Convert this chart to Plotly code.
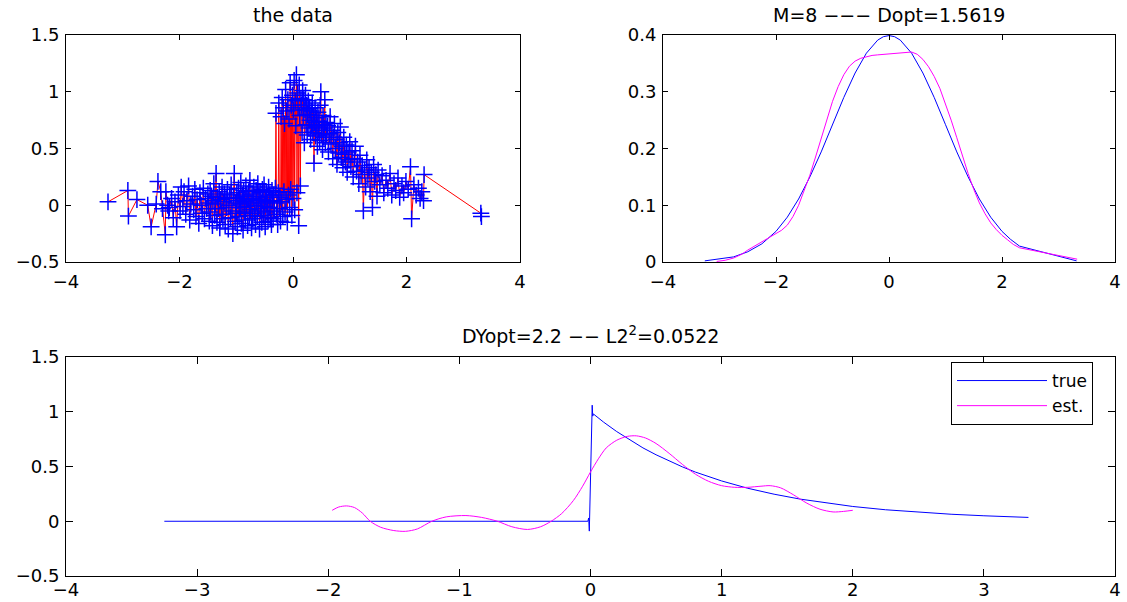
import plotly.graph_objects as go

# ---------------- data ----------------
# "the data": observed (x, y) pairs, sorted by x
scatter_tail_left = [
    (-3.26, 0.03), (-2.91, 0.13), (-2.90, -0.095), (-2.75, 0.05), (-2.56, 0.0),
    (-2.50, -0.19), (-2.41, 0.01), (-2.38, 0.21), (-2.33, 0.12), (-2.30, -0.03),
    (-2.25, -0.26), (-2.24, 0.12), (-2.21, 0.0), (-2.19, -0.05),
]
scatter_left_a = [
    (-2.18, -0.02), (-2.14, 0.06), (-2.11, -0.11), (-2.08, 0.03), (-2.05, -0.19),
    (-2.02, 0.09), (-1.99, -0.05), (-1.97, 0.16), (-1.94, -0.01), (-1.92, 0.12),
    (-1.89, -0.08), (-1.87, 0.04), (-1.84, 0.17), (-1.82, -0.13), (-1.80, 0.01),
    (-1.77, 0.08), (-1.75, -0.04), (-1.73, 0.14), (-1.71, -0.10), (-1.69, 0.05),
    (-1.66, -0.16), (-1.64, 0.11), (-1.62, 0.00), (-1.60, -0.07), (-1.58, 0.15),
    (-1.56, -0.12), (-1.54, 0.06), (-1.52, -0.03), (-1.50, 0.10),
]
scatter_left_b = [
    (-1.49, 0.02), (-1.475, -0.14), (-1.46, 0.13), (-1.45, -0.06), (-1.435, 0.08),
    (-1.42, -0.18), (-1.41, 0.04), (-1.395, 0.19), (-1.38, -0.09), (-1.37, 0.01),
    (-1.355, 0.28), (-1.34, -0.15), (-1.33, 0.07), (-1.315, -0.03), (-1.30, 0.12),
    (-1.29, -0.20), (-1.275, 0.05), (-1.26, -0.08), (-1.25, 0.16), (-1.235, -0.12),
    (-1.22, 0.03), (-1.21, 0.10), (-1.195, -0.17), (-1.18, 0.06), (-1.17, -0.02),
    (-1.155, 0.14), (-1.14, -0.21), (-1.13, 0.00), (-1.115, 0.09), (-1.10, -0.11),
    (-1.09, 0.18), (-1.075, -0.05), (-1.06, -0.25), (-1.05, 0.07), (-1.035, 0.28),
    (-1.02, -0.14), (-1.01, 0.02), (-1.00, -0.07),
]
scatter_left_c = [
    (-0.99, 0.11), (-0.98, -0.19), (-0.97, 0.04), (-0.96, 0.15), (-0.95, -0.10),
    (-0.94, 0.06), (-0.93, -0.02), (-0.92, 0.20), (-0.91, -0.16), (-0.90, 0.01),
    (-0.89, 0.09), (-0.88, -0.22), (-0.87, 0.13), (-0.86, -0.06), (-0.85, 0.03),
    (-0.84, -0.13), (-0.83, 0.17), (-0.82, -0.01), (-0.81, 0.08), (-0.80, -0.18),
    (-0.79, 0.05), (-0.78, 0.12), (-0.77, -0.09), (-0.76, 0.22), (-0.75, -0.04),
    (-0.74, 0.02), (-0.73, -0.20), (-0.72, 0.10), (-0.71, -0.12), (-0.70, 0.06),
    (-0.69, 0.16), (-0.68, -0.07), (-0.67, 0.00), (-0.66, -0.17), (-0.65, 0.13),
    (-0.64, 0.04), (-0.63, -0.10), (-0.62, 0.19), (-0.61, -0.03), (-0.60, 0.08),
    (-0.59, -0.21), (-0.58, 0.11), (-0.57, -0.05), (-0.56, 0.02), (-0.55, -0.15),
    (-0.54, 0.14), (-0.53, 0.05), (-0.52, -0.09), (-0.51, 0.18), (-0.50, -0.01),
    (-0.49, -0.19), (-0.48, 0.07), (-0.47, 0.12), (-0.46, -0.06), (-0.45, 0.03),
    (-0.44, -0.14), (-0.43, 0.16), (-0.42, -0.02), (-0.41, 0.09), (-0.40, -0.11),
    (-0.39, 0.04), (-0.38, -0.17), (-0.37, 0.13),
]
scatter_jump = [
    (-0.36, 0.04), (-0.35, -0.12), (-0.34, 0.09), (-0.33, -0.05), (-0.31, 0.15),
    (-0.30, 0.81), (-0.29, -0.08), (-0.28, 0.02), (-0.27, -0.17), (-0.26, 0.11),
    (-0.25, 0.90), (-0.24, -0.03), (-0.23, 0.07), (-0.22, -0.14), (-0.21, 0.78),
    (-0.20, 0.03), (-0.19, 0.95), (-0.18, -0.10), (-0.17, 0.86), (-0.16, 0.12),
    (-0.15, 0.72), (-0.14, -0.06), (-0.13, 1.02), (-0.12, 0.05), (-0.11, 0.83),
    (-0.10, -0.15), (-0.09, 0.93), (-0.08, 0.09), (-0.07, 0.76), (-0.06, -0.02),
    (-0.05, 1.08), (-0.04, 0.14), (-0.03, 0.88), (-0.02, -0.09), (-0.01, 0.97),
    (0.00, 0.06), (0.01, 0.84), (0.02, 1.10), (0.03, -0.04), (0.04, 0.92),
    (0.05, 0.70), (0.06, 1.15), (0.07, 0.11), (0.08, 0.99), (0.09, 0.86),
    (0.10, -0.18), (0.11, 1.06), (0.12, 0.79), (0.13, 0.17), (0.14, 0.94),
]
scatter_right_a = [
    (0.15, 0.88), (0.16, 0.64), (0.17, 1.01), (0.18, 0.79), (0.19, 0.93),
    (0.20, 0.55), (0.21, 0.84), (0.22, 0.97), (0.23, 0.71), (0.24, 0.88),
    (0.25, 0.62), (0.26, 0.80), (0.27, 0.92), (0.28, 0.68), (0.29, 0.85),
    (0.30, 0.75), (0.31, 0.58), (0.32, 0.83), (0.33, 0.70), (0.34, 0.90),
    (0.35, 0.64), (0.36, 0.79), (0.37, 0.37), (0.38, 0.73), (0.39, 0.86),
    (0.40, 0.61), (0.41, 0.77), (0.42, 0.69), (0.43, 0.52), (0.44, 0.82),
    (0.45, 0.66), (0.46, 0.74), (0.47, 0.57), (0.48, 0.88), (0.49, 1.00),
    (0.50, 0.63), (0.51, 0.71), (0.52, 0.49), (0.53, 0.79), (0.54, 0.60),
    (0.55, 0.68), (0.56, 0.93), (0.57, 0.55), (0.58, 0.73), (0.59, 0.62),
]
scatter_right_b = [
    (0.61, 0.70), (0.625, 0.47), (0.64, 0.63), (0.655, 0.78), (0.67, 0.54),
    (0.685, 0.66), (0.70, 0.41), (0.715, 0.60), (0.73, 0.72), (0.745, 0.50),
    (0.76, 0.58), (0.775, 0.36), (0.79, 0.64), (0.805, 0.46), (0.82, 0.55),
    (0.835, 0.69), (0.85, 0.42), (0.865, 0.52), (0.88, 0.33), (0.895, 0.60),
    (0.91, 0.45), (0.925, 0.38), (0.94, 0.53), (0.955, 0.29), (0.97, 0.47),
    (0.985, 0.40), (1.00, 0.56),
]
scatter_right_c = [
    (1.02, 0.34), (1.04, 0.48), (1.06, 0.25), (1.08, 0.41), (1.10, 0.52),
    (1.12, 0.30), (1.14, 0.38), (1.16, 0.19), (1.18, 0.44), (1.20, 0.27),
    (1.22, 0.35), (1.24, -0.05), (1.26, 0.31), (1.28, 0.16), (1.30, 0.40),
    (1.32, 0.24), (1.34, 0.33), (1.36, 0.12), (1.38, 0.29), (1.40, -0.02),
    (1.42, 0.36), (1.44, 0.21), (1.46, 0.27), (1.48, 0.08), (1.50, 0.31),
]
scatter_tail_right = [
    (1.53, 0.18), (1.57, 0.26), (1.60, 0.11), (1.64, 0.22), (1.67, 0.15),
    (1.71, 0.28), (1.74, 0.09), (1.78, 0.19), (1.81, 0.13), (1.85, 0.24),
    (1.88, 0.07), (1.92, 0.17), (1.95, 0.11), (1.99, 0.21), (2.03, 0.14),
    (2.07, 0.34), (2.09, -0.12), (2.13, 0.18), (2.17, 0.09), (2.21, 0.15),
    (2.24, 0.06), (2.27, 0.12), (2.30, 0.04), (2.31, 0.27), (3.31, -0.07),
    (3.32, -0.10),
]

# "M=8 --- Dopt": true density (blue) and estimated density (magenta)
dens_true_x = [-3.26, -2.91, -2.75, -2.5, -2.25, -2.0, -1.8, -1.6, -1.4, -1.2, -1.0,
               -0.8, -0.6, -0.4, -0.2, -0.1, 0.0, 0.1, 0.2, 0.4, 0.6, 0.8, 1.0, 1.2,
               1.4, 1.6, 1.8, 2.0, 2.15, 2.31, 3.32]
dens_true_y = [0.002, 0.006, 0.009, 0.018, 0.032, 0.054, 0.079, 0.111, 0.150, 0.194, 0.242,
               0.290, 0.333, 0.368, 0.391, 0.397, 0.399, 0.397, 0.391, 0.368, 0.333, 0.290,
               0.242, 0.194, 0.150, 0.111, 0.079, 0.054, 0.040, 0.028, 0.002]
dens_est_x = [-3.05, -2.9, -2.75, -2.6, -2.5, -2.4, -2.3, -2.2, -2.1, -2.0, -1.9, -1.8,
              -1.7, -1.6, -1.5, -1.4, -1.3, -1.2, -1.1, -1.0, -0.9, -0.8, -0.7, -0.6,
              -0.5, -0.4, -0.3, -0.2, -0.1, 0.0, 0.1, 0.2, 0.3, 0.4, 0.5, 0.6, 0.7,
              0.8, 0.9, 1.0, 1.1, 1.2, 1.3, 1.4, 1.5, 1.6, 1.7, 1.8, 1.9, 2.0, 2.1,
              2.2, 2.31, 3.33]
dens_est_y = [0.001, 0.003, 0.007, 0.014, 0.021, 0.027, 0.033, 0.039, 0.045, 0.050, 0.056,
              0.065, 0.080, 0.100, 0.125, 0.153, 0.185, 0.218, 0.252, 0.283, 0.309, 0.330,
              0.345, 0.354, 0.359, 0.362, 0.364, 0.365, 0.366, 0.367, 0.368, 0.369, 0.370,
              0.370, 0.366, 0.357, 0.344, 0.327, 0.306, 0.279, 0.250, 0.219, 0.187, 0.156,
              0.128, 0.104, 0.085, 0.069, 0.057, 0.047, 0.039, 0.031, 0.025, 0.005]

# "DYopt": true regression (blue) and estimate (magenta)
reg_true_x = [-3.25, -0.02, -0.014, -0.009, 0.013, 0.017, 0.022, 0.05, 0.1, 0.2, 0.3,
              0.4, 0.5, 0.6, 0.7, 0.8, 0.9, 1.0, 1.2, 1.4, 1.6, 1.8, 2.0, 2.25, 2.5,
              2.75, 3.0, 3.34]
reg_true_y = [0.0, 0.0, 0.03, -0.09, 1.06, 0.96, 0.98, 0.951, 0.905, 0.819, 0.741,
              0.670, 0.607, 0.549, 0.497, 0.449, 0.407, 0.368, 0.301, 0.247, 0.202,
              0.165, 0.135, 0.105, 0.082, 0.064, 0.050, 0.035]
reg_est_x = [-1.97, -1.92, -1.86, -1.80, -1.74, -1.68, -1.60, -1.50, -1.41, -1.32,
             -1.21, -1.10, -0.95, -0.83, -0.71, -0.60, -0.48, -0.38, -0.30, -0.22,
             -0.13, -0.06, 0.0, 0.06, 0.12, 0.20, 0.28, 0.35, 0.42, 0.50, 0.60, 0.70,
             0.80, 0.90, 1.00, 1.10, 1.20, 1.30, 1.37, 1.45, 1.55, 1.65, 1.75, 1.85,
             1.93, 2.00]
reg_est_y = [0.10, 0.13, 0.14, 0.125, 0.075, 0.0, -0.055, -0.085, -0.092, -0.07,
             0.0, 0.04, 0.052, 0.035, 0.0, -0.05, -0.075, -0.05, 0.0, 0.07,
             0.19, 0.32, 0.45, 0.57, 0.67, 0.74, 0.775, 0.78, 0.76, 0.71, 0.62, 0.52,
             0.43, 0.365, 0.325, 0.31, 0.31, 0.32, 0.325, 0.305, 0.24, 0.165, 0.11, 0.085,
             0.09, 0.10]

# tick values
ticks_x_top = [-4, -2, 0, 2, 4]
ticks_y_data = [-0.5, 0, 0.5, 1, 1.5]
ticks_y_dens = [0, 0.1, 0.2, 0.3, 0.4]
ticks_x_bottom = [-4, -3, -2, -1, 0, 1, 2, 3, 4]

# titles
title_data = "the data"
title_dens = "M=8 −−− Dopt=1.5619"
title_reg = "DYopt=2.2 −− L2<sup>2</sup>=0.0522"

# ---------------- figure ----------------
points = (scatter_tail_left + scatter_left_a + scatter_left_b + scatter_left_c +
          scatter_jump + scatter_right_a + scatter_right_b + scatter_right_c +
          scatter_tail_right)
data_x = [p[0] for p in points]
data_y = [p[1] for p in points]

FONT = "DejaVu Sans"
FS = 19      # titles
TFS = 18     # tick labels

fig = go.Figure()
fig.add_trace(go.Scatter(x=data_x, y=data_y, mode="lines",
                         line=dict(color="#ff0000", width=1),
                         xaxis="x", yaxis="y", showlegend=False, hoverinfo="skip"))
fig.add_trace(go.Scatter(x=data_x, y=data_y, mode="markers",
                         marker=dict(symbol="cross-thin", size=12, color="#0000ff",
                                     line=dict(color="#0000ff", width=1.5)),
                         xaxis="x", yaxis="y", showlegend=False))
fig.add_trace(go.Scatter(x=dens_true_x, y=dens_true_y, mode="lines",
                         line=dict(color="#0000ff", width=1),
                         xaxis="x2", yaxis="y2", showlegend=False))
fig.add_trace(go.Scatter(x=dens_est_x, y=dens_est_y, mode="lines",
                         line=dict(color="#ff00ff", width=1),
                         xaxis="x2", yaxis="y2", showlegend=False))
fig.add_trace(go.Scatter(x=reg_true_x, y=reg_true_y, mode="lines", name="true",
                         line=dict(color="#0000ff", width=1),
                         xaxis="x3", yaxis="y3"))
fig.add_trace(go.Scatter(x=reg_est_x, y=reg_est_y, mode="lines", name="est.",
                         line=dict(color="#ff00ff", width=1, shape="spline", smoothing=0.8),
                         xaxis="x3", yaxis="y3"))

W, H = 1127, 602
xl = (66 / W, 520 / W)
xr = (663 / W, 1115 / W)
xb = (66 / W, 1115 / W)
yt = (1 - 262 / H, 1 - 35 / H)
yb = (1 - 576 / H, 1 - 357 / H)


def axis(domain, rng, tickvals, anchor, ticklen, standoff, fs=TFS):
    return dict(domain=list(domain), range=rng, tickmode="array", tickvals=tickvals,
                ticks="inside", ticklen=ticklen, tickwidth=1, tickcolor="black",
                showline=True, linecolor="black", linewidth=1, mirror="ticks",
                showgrid=False, zeroline=False, anchor=anchor, automargin=False,
                ticklabelstandoff=standoff,
                tickfont=dict(family=FONT, size=fs, color="black"))


fig.update_layout(
    width=W, height=H,
    margin=dict(l=0, r=0, t=0, b=0, autoexpand=False),
    paper_bgcolor="white", plot_bgcolor="white",
    xaxis=axis(xl, [-4, 4], ticks_x_top, "y", 5, 3),
    yaxis=axis(yt, [-0.5, 1.5], ticks_y_data, "x", 5, 2),
    xaxis2=axis(xr, [-4, 4], ticks_x_top, "y2", 5, 3),
    yaxis2=axis(yt, [0, 0.4], ticks_y_dens, "x2", 5, 2),
    xaxis3=axis(xb, [-4, 4], ticks_x_bottom, "y3", 7, -3),
    yaxis3=axis(yb, [-0.5, 1.5], ticks_y_data, "x3", 7, 2),
    legend=dict(x=1093 / W, xanchor="right", y=1 - 362 / H, yanchor="top",
                bordercolor="black", borderwidth=1, bgcolor="white",
                font=dict(family=FONT, size=17, color="black"),
                itemwidth=90, tracegroupgap=0),
    annotations=[
        dict(text=title_data, x=(xl[0] + xl[1]) / 2, y=yt[1], xref="paper", yref="paper",
             xanchor="center", yanchor="bottom", yshift=7, showarrow=False,
             font=dict(family=FONT, size=FS, color="black")),
        dict(text=title_dens, x=(xr[0] + xr[1]) / 2, y=yt[1], xref="paper", yref="paper",
             xanchor="center", yanchor="bottom", yshift=7, showarrow=False,
             font=dict(family=FONT, size=FS, color="black")),
        dict(text=title_reg, x=(xb[0] + xb[1]) / 2, y=yb[1], xref="paper", yref="paper",
             xanchor="center", yanchor="bottom", yshift=8, showarrow=False,
             font=dict(family=FONT, size=FS, color="black")),
    ],
)

fig.write_html(
    "out.html",
    config={"displayModeBar": False},
    post_script="document.body.style.margin='0px';document.body.style.overflow='hidden';",
)
